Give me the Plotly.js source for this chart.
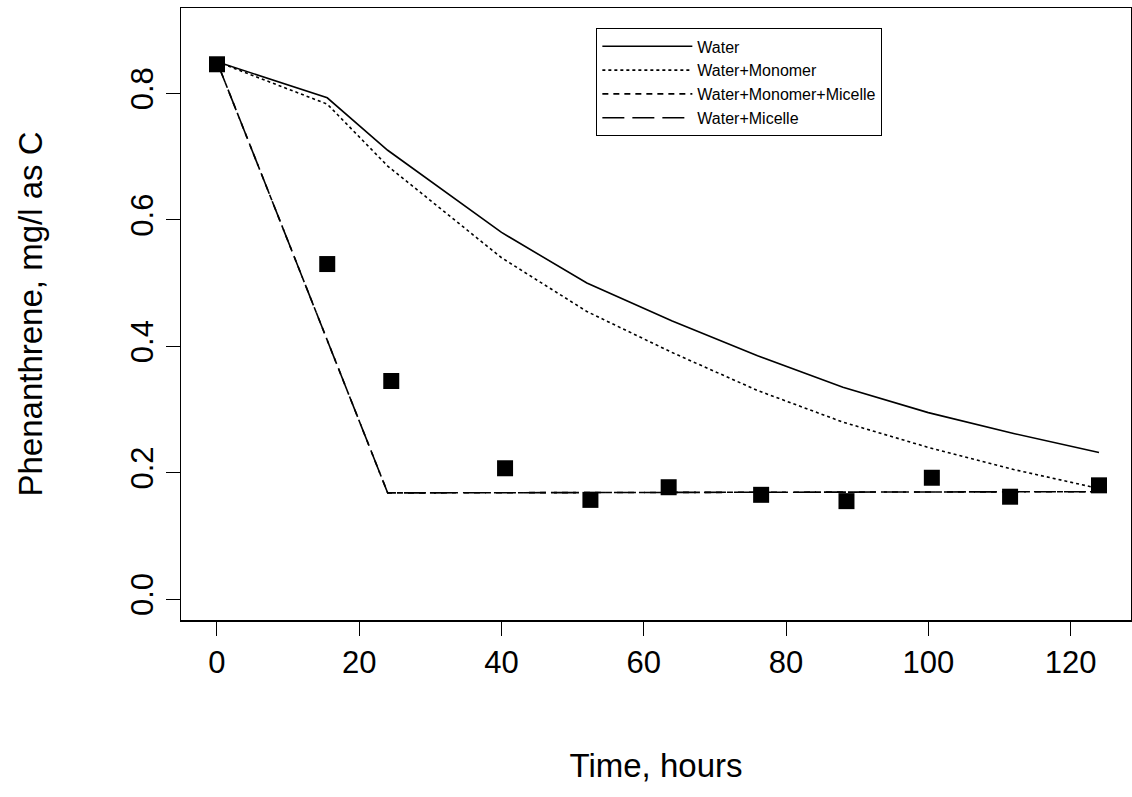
<!DOCTYPE html>
<html><head><meta charset="utf-8">
<script src="https://cdn.plot.ly/plotly-3.0.1.min.js"></script>
<style>body{margin:0;background:#fff}#plot{width:1132px;height:797px}</style>
</head><body><div id="plot"></div>
<script>
const obsTime = [0, 15.5, 24.5, 40.5, 52.5, 63.5, 76.5, 88.5, 100.5, 111.5, 124];
const obsConc = [0.846, 0.53, 0.345, 0.207, 0.157, 0.177, 0.165, 0.155, 0.192, 0.162, 0.18];
const modelTime = [0, 15.5, 24, 40, 52, 64, 76, 88, 100, 112, 124];
const water = [0.85, 0.793, 0.71, 0.58, 0.50, 0.44, 0.385, 0.335, 0.295, 0.262, 0.232];
const waterMonomer = [0.85, 0.783, 0.685, 0.54, 0.455, 0.39, 0.33, 0.28, 0.24, 0.205, 0.175];
const micelleTime = [0, 24, 124];
const waterMonomerMicelle = [0.85, 0.168, 0.17];
const waterMicelle = [0.85, 0.168, 0.17];

const line = (x, y, name, dash) => ({
  type: "scatter", mode: "lines", x, y, name,
  line: { color: "#000", width: 1.6, dash },
});

const data = [
  line(modelTime, water, "Water", "solid"),
  line(modelTime, waterMonomer, "Water+Monomer", "dot"),
  line(micelleTime, waterMonomerMicelle, "Water+Monomer+Micelle", "6px,5px"),
  line(micelleTime, waterMicelle, "Water+Micelle", "22px,8px"),
  { type: "scatter", mode: "markers", x: obsTime, y: obsConc, showlegend: false,
    marker: { symbol: "square", size: 16, color: "#000" } },
];

const axisBase = {
  showgrid: false, zeroline: false, showline: true, linecolor: "#000", linewidth: 1.5,
  mirror: true, ticks: "outside", ticklen: 14, tickcolor: "#000",
  tickfont: { size: 31, color: "#000" },
};

const layout = {
  width: 1132, height: 797,
  margin: { l: 181, r: 1, t: 8, b: 177 },
  paper_bgcolor: "#fff", plot_bgcolor: "#fff",
  font: { family: "Liberation Sans, Arial, sans-serif", color: "#000" },
  xaxis: { ...axisBase, range: [-5.06, 128.5], tickvals: [0, 20, 40, 60, 80, 100, 120],
    title: { text: "Time, hours", font: { size: 33 }, standoff: 75 } },
  yaxis: { ...axisBase, range: [-0.033, 0.935], tickvals: [0, 0.2, 0.4, 0.6, 0.8],
    tickformat: ".1f", tickangle: -90,
    title: { text: "Phenanthrene, mg/l as C", font: { size: 33 }, standoff: 72 } },
  legend: {
    x: 0.437, y: 0.967, xanchor: "left", yanchor: "top",
    bgcolor: "#fff", bordercolor: "#000", borderwidth: 1.2,
    font: { size: 16 }, itemwidth: 90, tracegroupgap: 0,
  },
};

Plotly.newPlot("plot", data, layout, { displayModeBar: false, staticPlot: true });
</script></body></html>
